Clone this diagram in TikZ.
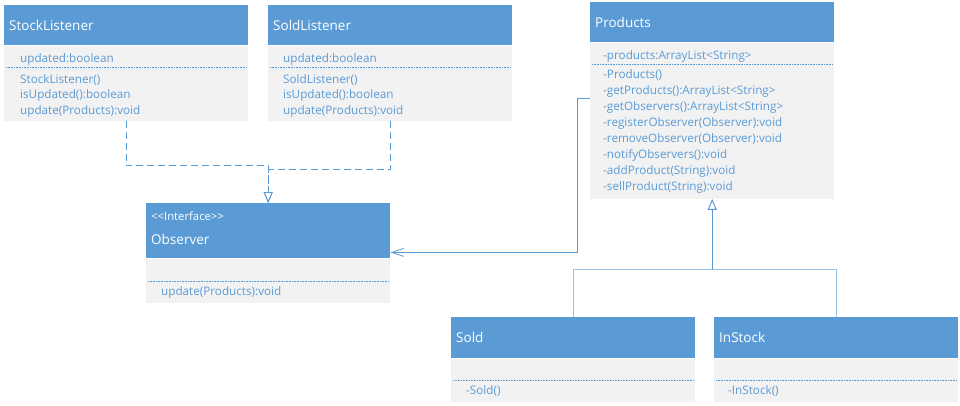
\documentclass[tikz,border=0pt]{standalone}
\usepackage{fontspec}
\setmainfont{Open Sans}
\usepackage{tikz}
\usetikzlibrary{positioning}
\usetikzlibrary{arrows.meta}
\definecolor{umlblue}{HTML}{5B9BD5}
\definecolor{umlgray}{HTML}{F2F2F2}
\definecolor{umllight}{HTML}{9DC3E6}
\tikzstyle{classhead} = [fill=umlblue, text=white, minimum width=244pt, text width=234pt, inner xsep=5pt, inner ysep=0pt, align=left, font=\fontsize{13.5}{16}\selectfont]
\tikzstyle{classbody} = [fill=umlgray, minimum width=244pt, inner sep=0pt]
\tikzstyle{members} = [text=umlblue, inner sep=0pt, align=left, font=\fontsize{11.7}{15.6}\selectfont]
\tikzstyle{dotsep} = [umlblue, densely dotted, line width=0.6pt]
\tikzstyle{realize} = [umlblue, line width=0.8pt, dash pattern=on 7pt off 4pt, -{Triangle[open, length=11pt, width=9pt]}]
\tikzstyle{assoc} = [umlblue, line width=0.8pt, -{Straight Barb[length=12pt, width=8pt]}]
\tikzstyle{generalize} = [umlblue, line width=1pt, -{Triangle[open, length=11pt, width=9pt]}]
\tikzstyle{genbranch} = [umllight, line width=1pt]

\begin{document}
\begin{tikzpicture}[x=1pt, y=-1pt]
								\useasboundingbox (0,0) rectangle (960,405);
								
								%Headers
								\node [classhead, minimum height=40pt, anchor=north west] (stockHead) at (4,5) {StockListener};
								\node [classhead, minimum height=40pt, anchor=north west] (soldLHead) at (268,5) {SoldListener};
								\node [classhead, minimum height=40pt, anchor=north west] (prodHead) at (590,2) {Products};
								\node [classhead, minimum height=55pt, anchor=north west] (obsHead) at (146,203) {};
								\node [classhead, minimum height=41pt, anchor=north west] (soldHead) at (451,317) {Sold};
								\node [classhead, minimum height=41pt, anchor=north west] (inStockHead) at (714,317) {InStock};
								
								%Bodies
								\node [classbody, minimum height=75pt, below=0pt of stockHead] (stockBody) {};
								\node [classbody, minimum height=75pt, below=0pt of soldLHead] (soldLBody) {};
								\node [classbody, minimum height=156pt, below=0pt of prodHead] (prodBody) {};
								\node [classbody, minimum height=44pt, below=0pt of obsHead] (obsBody) {};
								\node [classbody, minimum height=43pt, below=0pt of soldHead] (soldBody) {};
								\node [classbody, minimum height=43pt, below=0pt of inStockHead] (inStockBody) {};
								
								%Members
								\node [members, below right=8.3pt and 16pt of stockBody.north west] (stockAttr) {updated:boolean};
								\node [members, below right=28.6pt and 16pt of stockBody.north west] (stockOps) {StockListener()\\isUpdated():boolean\\update(Products):void};
								\node [members, below right=8.3pt and 15pt of soldLBody.north west] (soldLAttr) {updated:boolean};
								\node [members, below right=28.6pt and 15pt of soldLBody.north west] (soldLOps) {SoldListener()\\isUpdated():boolean\\update(Products):void};
								\node [members, below right=8.3pt and 13pt of prodBody.north west] (prodAttr) {-products:ArrayList<String>};
								\node [members, below right=27pt and 13pt of prodBody.north west, font=\fontsize{11.7}{16}\selectfont] (prodOps) {-Products()\\-getProducts():ArrayList<String>\\-getObservers():ArrayList<String>\\-registerObserver(Observer):void\\-removeObserver(Observer):void\\-notifyObservers():void\\-addProduct(String):void\\-sellProduct(String):void};
								\node [members, below right=28.3pt and 15pt of obsBody.north west] (obsOps) {update(Products):void};
								\node [members, below right=27.3pt and 15pt of soldBody.north west] (soldOps) {-Sold()};
								\node [members, below right=27.3pt and 14pt of inStockBody.north west] (inStockOps) {-InStock()};
								
								\node [text=white, inner sep=0pt, anchor=base west, font=\fontsize{11.3}{13}\selectfont] (obsStereo) at ([xshift=5pt, yshift=-17pt]obsHead.north west) {{<}{<}Interface{>}{>}};
								\node [text=white, inner sep=0pt, anchor=base west, font=\fontsize{13.5}{16}\selectfont] (obsName) at ([xshift=5pt, yshift=-41pt]obsHead.north west) {Observer};
								
								%Separators
								\draw[dotsep] ([xshift=2pt, yshift=-22pt]stockBody.north west) -- ([xshift=-2pt, yshift=-22pt]stockBody.north east);
								\draw[dotsep] ([xshift=2pt, yshift=-22pt]soldLBody.north west) -- ([xshift=-2pt, yshift=-22pt]soldLBody.north east);
								\draw[dotsep] ([xshift=2pt, yshift=-22pt]prodBody.north west) -- ([xshift=-2pt, yshift=-22pt]prodBody.north east);
								\draw[dotsep] ([xshift=2pt, yshift=-23pt]obsBody.north west) -- ([xshift=-2pt, yshift=-23pt]obsBody.north east);
								\draw[dotsep] ([xshift=2pt, yshift=-22pt]soldBody.north west) -- ([xshift=-2pt, yshift=-22pt]soldBody.north east);
								\draw[dotsep] ([xshift=2pt, yshift=-22pt]inStockBody.north west) -- ([xshift=-2pt, yshift=-22pt]inStockBody.north east);
								
								%Lines
								\coordinate (joint) at ([yshift=-71pt]prodBody.south);
								\draw[realize] (stockBody.south) -- ++(0,45) -| (obsHead.north);
								\draw[realize] (soldLBody.south) -- ++(0,49) -| (obsHead.north);
								\draw[assoc] ([yshift=-56pt]prodBody.north west) -- ++(-13,0) |- ([yshift=6pt]obsHead.south east);
								\draw[genbranch] (soldHead.north) |- (joint);
								\draw[genbranch] (inStockHead.north) |- (joint);
								\draw[generalize] (joint) -- (prodBody.south);
								
							\end{tikzpicture}
\end{document}
